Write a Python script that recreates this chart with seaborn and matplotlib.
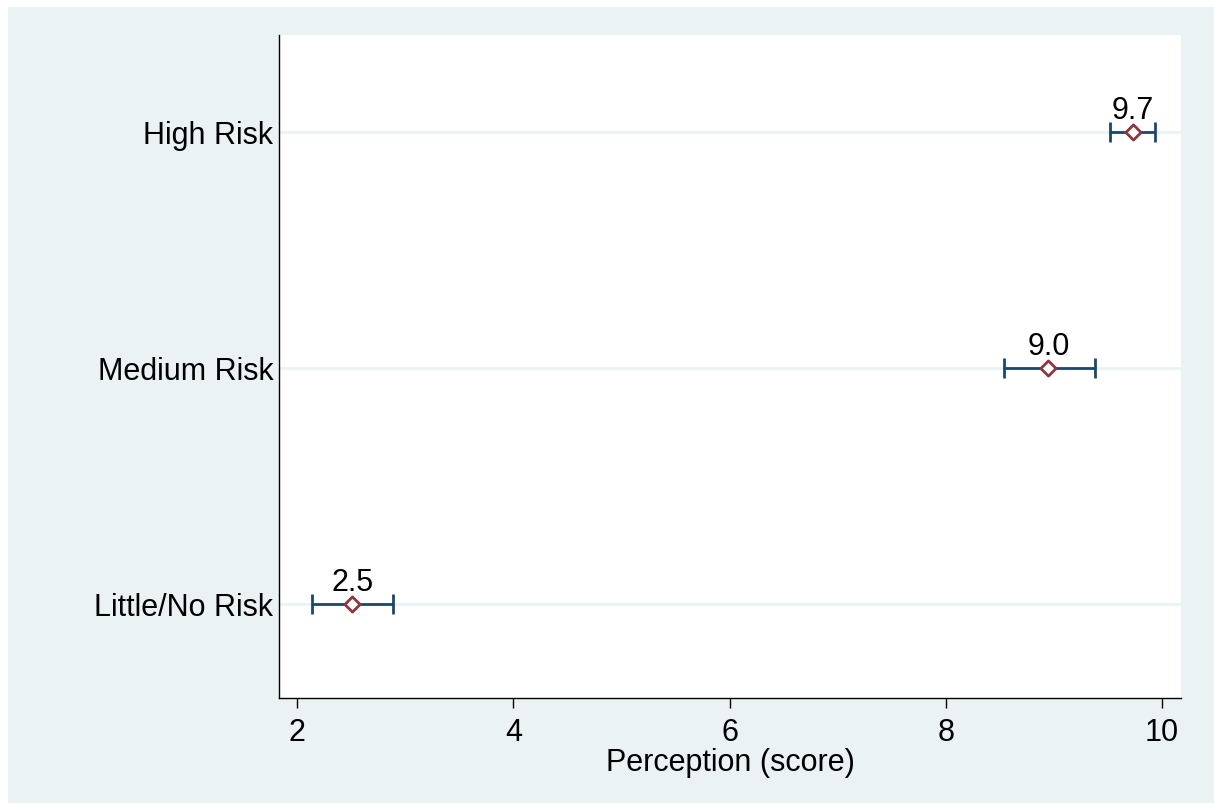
import matplotlib
matplotlib.use("Agg")
import matplotlib.pyplot as plt
import numpy as np
import pandas as pd
import seaborn as sns
from matplotlib.patches import Rectangle

# datos
categorias = ["Little/No Risk", "Medium Risk", "High Risk"]
media = [2.51, 8.95, 9.73]
ci_bajo = [2.14, 8.54, 9.52]
ci_alto = [2.89, 9.38, 9.94]
etiquetas = ["2.5", "9.0", "9.7"]
xticks = [2, 4, 6, 8, 10]

df = pd.DataFrame({"cat": categorias, "media": media, "lo": ci_bajo, "hi": ci_alto})
df["pos"] = np.arange(len(df))

sns.set_theme(style="white")
plt.rcParams["font.family"] = ["Liberation Sans", "DejaVu Sans"]

fondo = "#eaf2f3"
azul = "#1a476f"
rojo = "#90353b"
fs = 22

fig = plt.figure(figsize=(12.14, 8.04), dpi=100)
fig.patch.set_facecolor("white")
fig.patches.append(Rectangle((8 / 1214, -0.1), 1.2, 1.1 - 8 / 804, transform=fig.transFigure,
                             facecolor=fondo, edgecolor="none", zorder=-10))

ax = fig.add_axes([279 / 1214, 1 - 699 / 804, (1181 - 279) / 1214, (699 - 36) / 804])
ax.set_facecolor("white")

# líneas de referencia
for p in df["pos"]:
    ax.axhline(p, color=fondo, linewidth=2, zorder=0)

# intervalos
ax.errorbar(df["media"], df["pos"],
            xerr=[df["media"] - df["lo"], df["hi"] - df["media"]],
            fmt="none", ecolor=azul, elinewidth=2, capsize=7, capthick=2, zorder=2)

sns.scatterplot(data=df, x="media", y="pos", marker="D", s=60,
                facecolor="white", edgecolor=rojo, linewidth=2, ax=ax, zorder=3)

for m, p, t in zip(df["media"], df["pos"], etiquetas):
    ax.annotate(t, (m, p), xytext=(0, 5), textcoords="offset points",
                ha="center", va="bottom", fontsize=fs, color="black")

ax.set_xlim(1.833, 10.176)
ax.set_ylim(-0.40, 2.41)
ax.set_xticks(xticks)
ax.set_xticklabels([str(x) for x in xticks], fontsize=fs, color="black")
ax.set_yticks(df["pos"])
ax.set_yticklabels(df["cat"], fontsize=fs, color="black")
ax.tick_params(axis="x", length=7, width=1, color="black", pad=7, bottom=True)
ax.tick_params(axis="y", length=0, pad=4)
ax.set_xlabel("Perception (score)", fontsize=fs, labelpad=0, color="black")
ax.set_ylabel("")

sns.despine(ax=ax)
for s in ["left", "bottom"]:
    ax.spines[s].set_color("black")
    ax.spines[s].set_linewidth(1)

fig.savefig("out.png", dpi=100)
